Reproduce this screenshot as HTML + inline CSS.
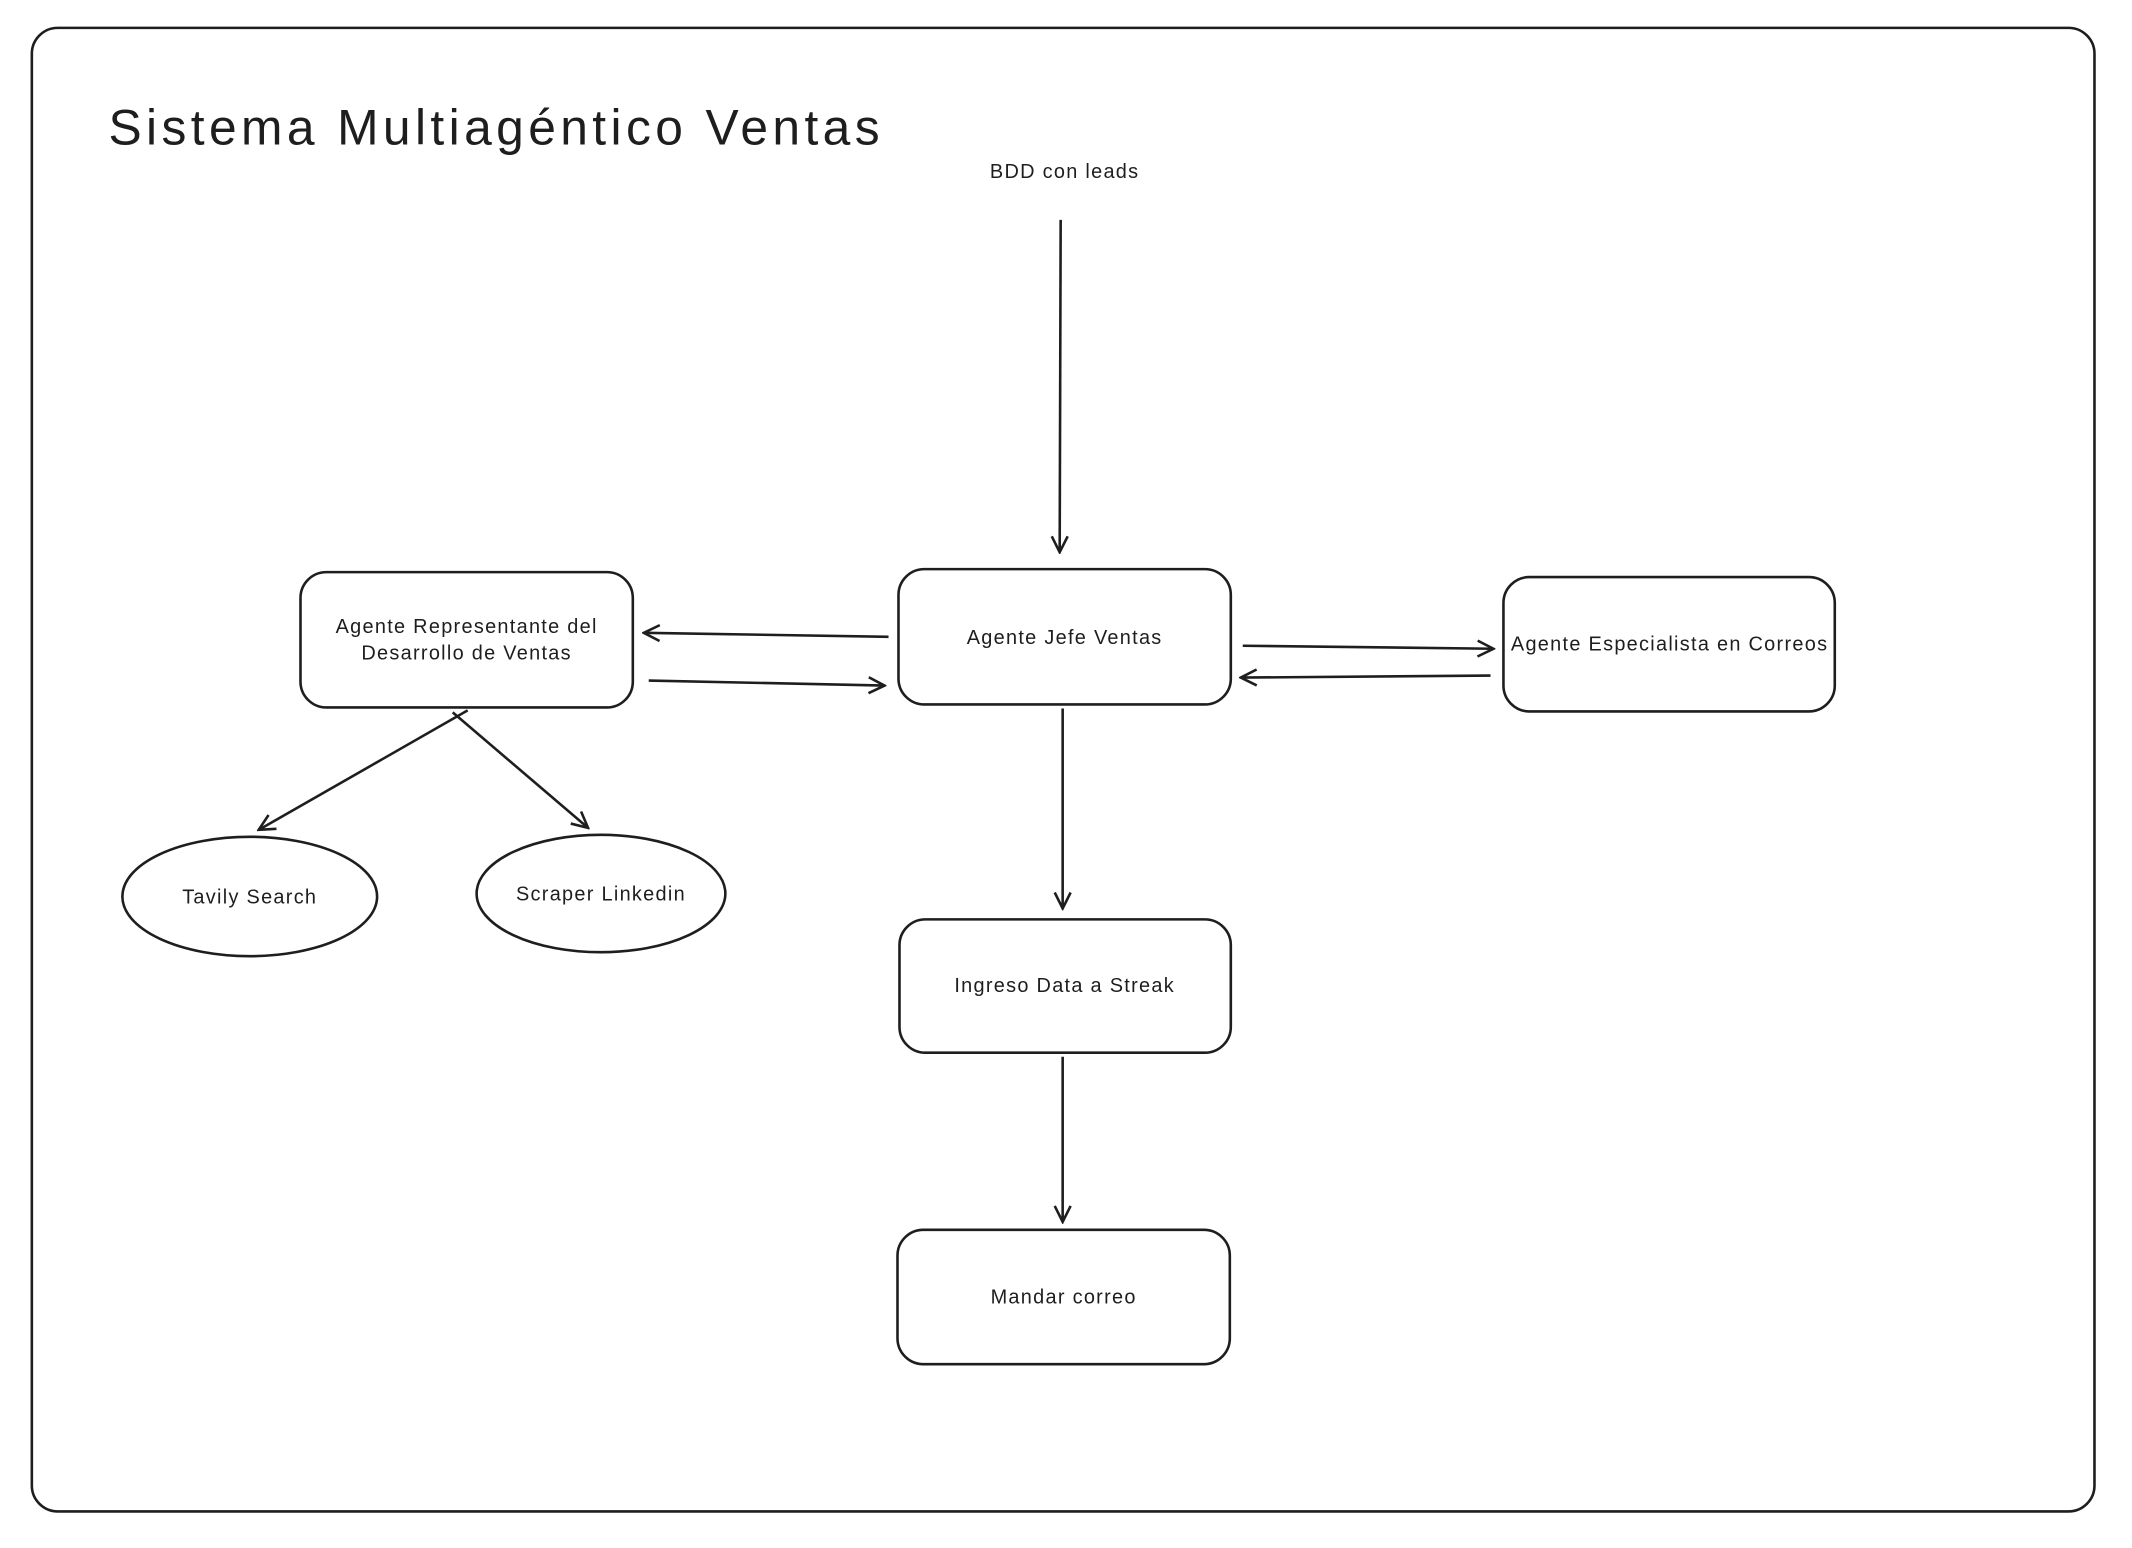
<!DOCTYPE html>
<html><head><meta charset="utf-8"><style>
html,body{margin:0;padding:0;background:#fff;}
svg{display:block;}
text{font-family:"Liberation Sans",sans-serif;fill:#1e1e1e;}
</style></head><body>
<svg width="2132" height="1548" viewBox="0 0 2132 1548" xmlns="http://www.w3.org/2000/svg">
<defs>
<marker id="a" viewBox="0 0 20 20" refX="18" refY="10" markerWidth="20" markerHeight="20" markerUnits="userSpaceOnUse" orient="auto">
<path d="M2 2 L18 10 L2 18" fill="none" stroke="#1e1e1e" stroke-width="2.6"/>
</marker>
</defs>
<rect width="2132" height="1548" fill="#fff"/>
<g transform="scale(0.995)">
<g fill="none" stroke="#1e1e1e" stroke-width="2.6">
<rect x="32" y="28" width="2073" height="1491" rx="26"/>
<rect x="903" y="572" width="334" height="136" rx="26"/>
<rect x="302" y="575" width="334" height="136" rx="26"/>
<rect x="1511" y="580" width="333" height="135" rx="26"/>
<rect x="904" y="924" width="333" height="134" rx="26"/>
<rect x="902" y="1236" width="334" height="135" rx="26"/>
<ellipse cx="251" cy="901" rx="128" ry="60"/>
<ellipse cx="604" cy="898" rx="125" ry="59"/>
<g marker-end="url(#a)">
<line x1="1066" y1="221" x2="1065" y2="555"/>
<line x1="893" y1="640" x2="647" y2="636"/>
<line x1="652" y1="684" x2="889" y2="689"/>
<line x1="1249" y1="649" x2="1501" y2="652"/>
<line x1="1498" y1="679" x2="1247" y2="681"/>
<line x1="470" y1="714" x2="260" y2="834"/>
<line x1="455" y1="716" x2="591" y2="832"/>
<line x1="1068" y1="712" x2="1068" y2="913"/>
<line x1="1068" y1="1062" x2="1068" y2="1228"/>
</g>
</g>
<text x="109" y="145" font-size="50" textLength="775" lengthAdjust="spacing">Sistema Multiagéntico Ventas</text>
<g font-size="20" text-anchor="middle" letter-spacing="1.3">
<text x="1070" y="179">BDD con leads</text>
<text x="1070" y="647">Agente Jefe Ventas</text>
<text x="469" y="636">Agente Representante del</text>
<text x="469" y="663">Desarrollo de Ventas</text>
<text x="1678" y="654">Agente Especialista en Correos</text>
<text x="1070" y="997">Ingreso Data a Streak</text>
<text x="1069" y="1310">Mandar correo</text>
<text x="251" y="908">Tavily Search</text>
<text x="604" y="905">Scraper Linkedin</text>
</g>
</g>
</svg>
</body></html>
